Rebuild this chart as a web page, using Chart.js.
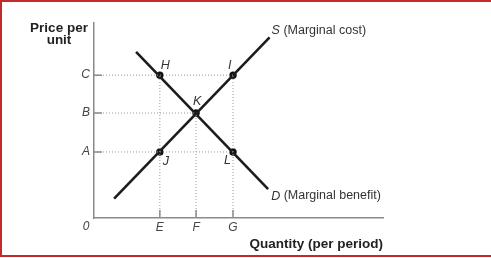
<!DOCTYPE html>
<html>
<head>
<meta charset="utf-8">
<script src="https://cdn.jsdelivr.net/npm/chart.js@4"></script>
<style>
  html, body { margin: 0; padding: 0; background: #fff; overflow: hidden; }
  #grafico { display: block; }
</style>
</head>
<body>
<canvas id="grafico" width="491" height="258"></canvas>
<script>
// axis positions (quantity / price)
var qLabels = ['E', 'F', 'G'];
var qValues = [1.8, 2.79, 3.8];
var pLabels = ['A', 'B', 'C'];
var pValues = [1.71, 2.72, 3.7];
var xMax = 7.9;
var yMax = 5.05;

// curves
var supplyLine = [{x: 0.55, y: 0.5}, {x: 4.8, y: 4.68}];
var demandLine = [{x: 1.15, y: 4.3}, {x: 4.76, y: 0.75}];

// labelled points
var pointNames = ['H', 'I', 'J', 'K', 'L'];
var pointX = [1.8, 3.8, 1.8, 2.79, 3.8];
var pointY = [3.7, 3.7, 1.71, 2.72, 1.71];

var E = qValues[0], F = qValues[1], G = qValues[2];
var A = pValues[0], B = pValues[1], C = pValues[2];

var guides = [
    [{x: 0, y: C}, {x: G, y: C}],
    [{x: 0, y: B}, {x: F, y: B}],
    [{x: 0, y: A}, {x: G, y: A}],
    [{x: E, y: 0}, {x: E, y: C}],
    [{x: F, y: 0}, {x: F, y: B}],
    [{x: G, y: 0}, {x: G, y: C}]
];

var fontFam = '"Liberation Sans", Arial, sans-serif';

var datasets = [];
guides.forEach(function(g) {
    datasets.push({
        data: g, showLine: true, pointRadius: 0,
        borderColor: '#999', borderWidth: 1, borderDash: [1, 2]
    });
});
datasets.push({ data: supplyLine, showLine: true, pointRadius: 0, borderColor: '#1c1c1c', borderWidth: 2.6 });
datasets.push({ data: demandLine, showLine: true, pointRadius: 0, borderColor: '#1c1c1c', borderWidth: 2.6 });
datasets.push({
    data: pointX.map(function(x, i) { return {x: x, y: pointY[i]}; }),
    pointRadius: 3.5, pointBackgroundColor: '#111', pointBorderColor: '#111', pointBorderWidth: 0.5
});

// offsets of point labels from their dots
var nameOffset = { H: [1, -10], I: [-5, -10], J: [3, 10], K: [-3, -11], L: [-9, 9] };

// red frame on top, left and bottom
var framePlugin = {
    id: 'frame',
    beforeDraw: function(chart) {
        var ctx = chart.ctx;
        ctx.save();
        ctx.fillStyle = '#fff';
        ctx.fillRect(0, 0, chart.width, chart.height);
        ctx.fillStyle = '#c42a2a';
        ctx.fillRect(0, 0, chart.width, 2);
        ctx.fillRect(0, 0, 2, 257);
        ctx.fillRect(0, 255, chart.width, 2);
        ctx.restore();
    }
};

var textPlugin = {
    id: 'texts',
    afterDatasetsDraw: function(chart) {
        var ctx = chart.ctx;
        var xs = chart.scales.x, ys = chart.scales.y;
        var x0 = xs.getPixelForValue(0), y0 = ys.getPixelForValue(0);
        ctx.save();
        // inward tick marks
        ctx.strokeStyle = '#8a8a8a';
        ctx.lineWidth = 1.5;
        ctx.beginPath();
        pValues.forEach(function(v) {
            var y = ys.getPixelForValue(v);
            ctx.moveTo(x0, y); ctx.lineTo(x0 + 8, y);
        });
        qValues.forEach(function(v) {
            var x = xs.getPixelForValue(v);
            ctx.moveTo(x, y0); ctx.lineTo(x, y0 - 8);
        });
        ctx.stroke();

        ctx.textBaseline = 'middle';
        // origin
        ctx.fillStyle = '#444';
        ctx.font = 'italic 12px ' + fontFam;
        ctx.textAlign = 'center';
        ctx.fillText('0', x0 - 8, y0 + 9);

        // point names
        ctx.fillStyle = '#333';
        ctx.font = 'italic 12.5px ' + fontFam;
        ctx.textAlign = 'left';
        pointNames.forEach(function(n, i) {
            var o = nameOffset[n];
            ctx.fillText(n, xs.getPixelForValue(pointX[i]) + o[0], ys.getPixelForValue(pointY[i]) + o[1]);
        });

        // curve labels
        var sx = xs.getPixelForValue(supplyLine[1].x) + 2, sy = ys.getPixelForValue(supplyLine[1].y) - 7;
        ctx.font = 'italic 12.5px ' + fontFam;
        ctx.fillText('S', sx, sy);
        var w = ctx.measureText('S').width;
        ctx.font = '12.5px ' + fontFam;
        ctx.fillText(' (Marginal cost)', sx + w, sy);

        var dx = xs.getPixelForValue(demandLine[1].x) + 3, dy = ys.getPixelForValue(demandLine[1].y) + 7;
        ctx.font = 'italic 12.5px ' + fontFam;
        ctx.fillText('D', dx, dy);
        w = ctx.measureText('D').width;
        ctx.font = '12.5px ' + fontFam;
        ctx.fillText(' (Marginal benefit)', dx + w, dy);

        // axis titles
        ctx.fillStyle = '#222';
        ctx.font = 'bold 13.5px ' + fontFam;
        ctx.textAlign = 'center';
        ctx.fillText('Price per', 59, 28);
        ctx.fillText('unit', 59, 40);
        ctx.textAlign = 'right';
        ctx.fillText('Quantity (per period)', xs.right, 244);
        ctx.restore();
    }
};

var config = {
    type: 'scatter',
    data: { datasets: datasets },
    options: {
        responsive: false,
        animation: false,
        events: [],
        layout: { padding: { left: 0, top: 23, right: 108, bottom: 0 } },
        plugins: { legend: { display: false }, tooltip: { enabled: false } },
        scales: {
            x: {
                type: 'linear', min: 0, max: xMax,
                afterFit: function(s) { s.height = 40; },
                afterBuildTicks: function(s) { s.ticks = qValues.map(function(v) { return {value: v}; }); },
                grid: { display: false, drawTicks: false },
                border: { display: true, color: '#8a8a8a', width: 1.5 },
                ticks: {
                    autoSkip: false, maxRotation: 0, padding: 2, color: '#444',
                    font: { family: fontFam, size: 12, style: 'italic' },
                    callback: function(v, i) { return qLabels[i]; }
                }
            },
            y: {
                type: 'linear', min: 0, max: yMax,
                afterFit: function(s) { s.width = 94; },
                afterBuildTicks: function(s) { s.ticks = pValues.map(function(v) { return {value: v}; }); },
                grid: { display: false, drawTicks: false },
                border: { display: true, color: '#8a8a8a', width: 1.5 },
                ticks: {
                    autoSkip: false, padding: 4, color: '#444',
                    font: { family: fontFam, size: 12, style: 'italic' },
                    callback: function(v, i) { return pLabels[i]; }
                }
            }
        }
    },
    plugins: [framePlugin, textPlugin]
};

window.onload = function() {
    var ctx = document.getElementById('grafico').getContext('2d');
    window.myChart = new Chart(ctx, config);
};
</script>
</body>
</html>
